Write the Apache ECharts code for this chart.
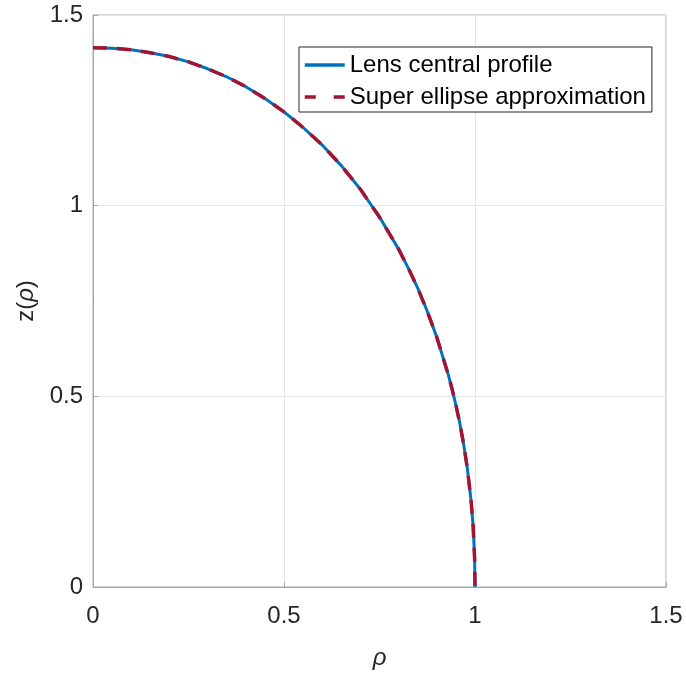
<!DOCTYPE html>
<html>
<head>
<meta charset="utf-8">
<script src="https://cdn.jsdelivr.net/npm/echarts@6/dist/echarts.min.js"></script>
<style>html,body{margin:0;padding:0;background:#fff;}#c{width:686px;height:675px;}</style>
</head>
<body>
<div id="c"></div>
<script>
const rho = [0, 0.05, 0.1, 0.15, 0.2, 0.25, 0.3, 0.35, 0.4, 0.45, 0.5, 0.55, 0.6, 0.65, 0.7, 0.75, 0.8, 0.825, 0.85, 0.875, 0.9, 0.93, 0.94, 0.95, 0.96, 0.97, 0.98, 0.99, 0.995, 0.999, 1];
const zLens = [1.414, 1.413, 1.409, 1.401, 1.391, 1.377, 1.359, 1.338, 1.312, 1.281, 1.246, 1.205, 1.159, 1.105, 1.043, 0.970, 0.886, 0.837, 0.784, 0.723, 0.655, 0.557, 0.519, 0.477, 0.431, 0.376, 0.311, 0.224, 0.161, 0.075, 0];
const zSuper = [1.414, 1.413, 1.409, 1.401, 1.391, 1.377, 1.359, 1.338, 1.312, 1.281, 1.246, 1.205, 1.159, 1.105, 1.043, 0.970, 0.886, 0.837, 0.784, 0.723, 0.655, 0.557, 0.519, 0.477, 0.431, 0.376, 0.311, 0.224, 0.161, 0.075, 0];
const seriesNames = ['Lens central profile', 'Super ellipse approximation'];
const ticks = [0, 0.5, 1, 1.5];

const font = 'Liberation Sans, Arial, Helvetica, sans-serif';
const chart = echarts.init(document.getElementById('c'), null, {renderer: 'canvas'});
const axisCommon = {
  type: 'value', min: ticks[0], max: ticks[ticks.length - 1], interval: ticks[1] - ticks[0],
  axisLine: {show: true, lineStyle: {color: '#a6a6a6', width: 1}},
  axisTick: {show: true, inside: true, length: 5, lineStyle: {color: '#a6a6a6'}},
  splitLine: {show: true, lineStyle: {color: '#e6e6e6', width: 1}},
  axisLabel: {color: '#262626', fontSize: 24, fontFamily: font,
    formatter: v => String(v)}
};
chart.setOption({
  animation: false,
  backgroundColor: '#fff',
  grid: {left: 93, right: 20, top: 15, bottom: 88, show: true, borderColor: '#a6a6a6', borderWidth: 1, backgroundColor: 'transparent'},
  xAxis: Object.assign({}, axisCommon, {
    name: 'ρ', nameLocation: 'middle', nameGap: 59,
    nameTextStyle: {fontSize: 24, fontStyle: 'italic', color: '#262626', fontFamily: font},
    axisLabel: Object.assign({}, axisCommon.axisLabel, {margin: 17})
  }),
  yAxis: Object.assign({}, axisCommon, {
    name: '{n|z(}{i|ρ}{n|)}', nameLocation: 'middle', nameGap: 46, nameRotate: 90,
    nameTextStyle: {fontSize: 24, color: '#262626', fontFamily: font,
      rich: {n: {fontSize: 24, color: '#262626', fontFamily: font}, i: {fontSize: 24, fontStyle: 'italic', color: '#262626', fontFamily: font}}},
    axisLabel: Object.assign({}, axisCommon.axisLabel, {margin: 10})
  }),
  legend: {
    orient: 'vertical', left: 299, top: 47,
    backgroundColor: '#fff', borderColor: '#262626', borderWidth: 1,
    padding: [6, 6, 3, 4], itemGap: 8, itemWidth: 40, itemHeight: 14,
    textStyle: {fontSize: 24, color: '#000', fontFamily: font},
    itemStyle: {opacity: 0},
    data: [
      {name: seriesNames[0], lineStyle: {width: 3.5}},
      {name: seriesNames[1], lineStyle: {width: 3.5, type: [11, 18]}}
    ]
  },
  series: [
    {name: seriesNames[0], type: 'line', symbol: 'none', smooth: false,
     data: rho.map((x, i) => [x, zLens[i]]),
     lineStyle: {color: '#0072BD', width: 3}, itemStyle: {color: '#0072BD'}},
    {name: seriesNames[1], type: 'line', symbol: 'none', smooth: false,
     data: rho.map((x, i) => [x, zSuper[i]]),
     lineStyle: {color: '#A2142F', width: 3.5, type: [14, 10]}, itemStyle: {color: '#A2142F'}}
  ]
});
</script>
</body>
</html>
